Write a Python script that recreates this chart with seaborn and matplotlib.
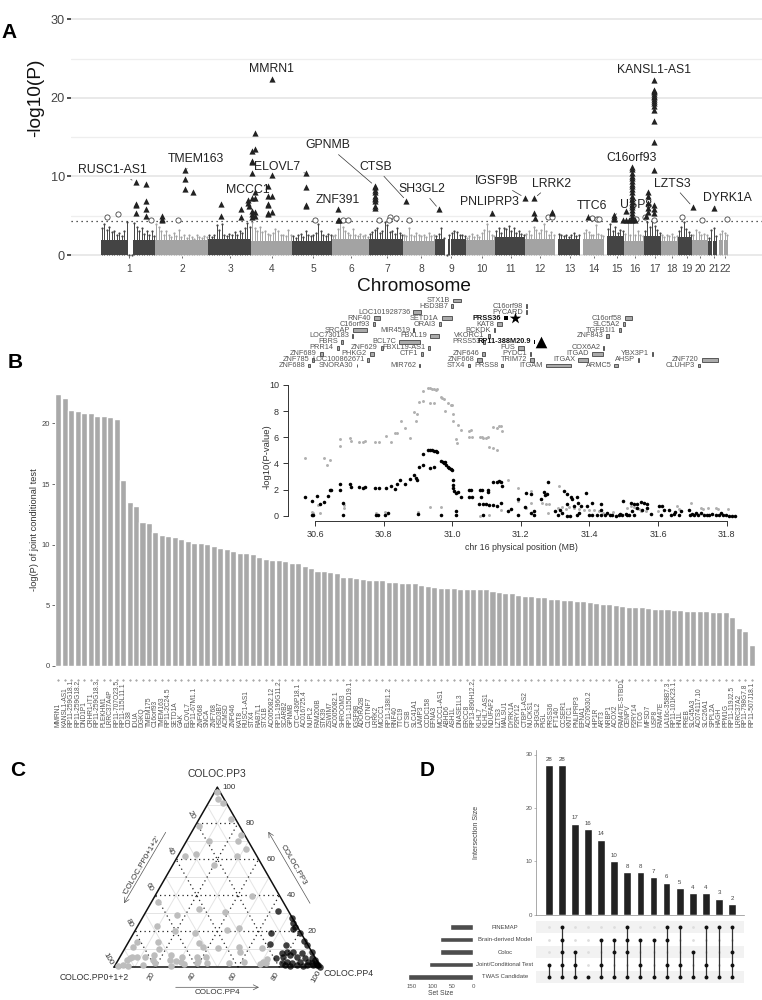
import matplotlib
matplotlib.use('Agg')
import matplotlib.pyplot as plt
import numpy as np
import pandas as pd
import seaborn as sns

# panel A: manhattan background, bin heights per chromosome
chrom_names = [str(i) for i in range(1, 23)]
chrom_ticks = [129, 182, 230, 272, 313, 351, 387, 421, 451, 482, 511, 540, 570, 594, 617, 635, 655, 672, 687, 700, 714, 725]
chrom_start = [101, 155, 208, 251, 292, 332, 369, 403, 435, 466, 495, 525, 558, 583, 607, 624, 644, 661, 678, 692, 708, 719]
chrom_end = [155, 208, 251, 292, 332, 369, 403, 435, 466, 495, 525, 555, 580, 604, 624, 644, 661, 678, 692, 708, 717, 728]
# height of the solid part of each chromosome
chrom_base = [1.9, 1.9, 2.0, 1.8, 1.8, 2.0, 2.1, 1.8, 2.0, 1.9, 2.3, 2.0, 2.0, 2.0, 2.4, 1.8, 2.4, 1.8, 2.3, 1.9, 1.8, 1.9]
chrom_heights = [
    [3.4, 3.9, 3.2, 3.6, 2.9, 3.1, 2.6, 2.8, 2.4, 3.0, 4.2, 0, 0, 4.1, 3.6, 3.0, 3.4, 2.7, 3.1, 2.6, 3.0, 2.4],
    [4.0, 3.6, 3.1, 2.5, 3.0, 2.6, 2.3, 2.8, 2.4, 3.2, 2.3, 2.5, 2.2, 2.6, 2.3, 2.1, 2.5, 2.3, 2.2, 2.4, 2.3],
    [2.5, 2.3, 2.6, 3.8, 3.2, 4.0, 2.6, 2.4, 2.7, 2.5, 2.9, 2.6, 3.0, 2.8, 3.5, 4.1, 3.6],
    [4.2, 3.4, 3.0, 3.6, 2.9, 3.1, 2.7, 2.6, 2.8, 3.3, 3.0, 2.5, 2.6, 2.4, 3.2, 2.6],
    [2.4, 2.2, 2.5, 2.7, 2.3, 3.0, 2.6, 2.4, 2.5, 2.8, 4.0, 3.0, 2.5, 2.4, 2.7, 2.5],
    [2.4, 2.6, 3.3, 4.2, 3.6, 3.0, 2.8, 2.5, 3.3, 2.6, 2.4, 2.7, 2.4, 2.6, 2.3],
    [2.7, 2.9, 3.2, 3.4, 2.8, 3.0, 4.2, 3.8, 2.9, 3.0, 2.7, 3.5, 2.8, 2.6],
    [2.6, 2.4, 3.4, 2.6, 2.4, 2.8, 2.5, 2.4, 2.6, 2.3, 2.8, 2.4, 2.6],
    [2.4, 2.7, 3.5, 2.2, 0, 2.5, 2.8, 3.1, 2.9, 2.6, 2.5, 2.4],
    [2.2, 2.4, 2.7, 2.3, 2.5, 2.3, 2.8, 3.2, 3.9, 3.1, 2.6, 2.4],
    [3.0, 3.4, 2.8, 3.5, 3.3, 3.7, 3.0, 3.4, 2.8, 3.1, 2.7, 2.5],
    [2.7, 3.0, 2.6, 3.6, 3.2, 2.8, 3.2, 3.9, 3.0, 2.6, 2.9, 2.5],
    [2.7, 2.5, 2.4, 2.6, 2.3, 2.5, 2.8, 2.4, 2.6],
    [2.8, 3.2, 2.9, 2.6, 2.5, 3.8, 2.7, 2.5, 2.4],
    [3.3, 4.0, 3.0, 3.6, 2.8, 3.2, 3.0],
    [2.7, 4.3, 2.6, 4.3, 2.5, 3.1, 2.6, 2.4],
    [3.0, 4.2, 3.6, 4.3, 3.7, 3.2, 2.8],
    [2.5, 2.3, 2.6, 2.4, 2.7, 2.3, 2.4],
    [3.0, 3.6, 4.2, 3.3, 2.9, 2.6],
    [2.6, 3.2, 2.9, 2.5, 2.7, 2.5],
    [2.2, 3.2, 3.4, 2.4],
    [2.7, 3.0, 2.8, 2.5],
]

# significant genes (triangles)
tri_pts = [
    (135.8, 9.3), (146.5, 9.1), (135.8, 6.5), (135.8, 6.4), (146.5, 6.9), (146.5, 5.8), (135.8, 5.3), (146.5, 5.0),
    (161.6, 5.0), (161.6, 4.6), (161.6, 4.4), (185.5, 10.8), (185.5, 9.7), (185.5, 8.4), (192.8, 8.0),
    (221.5, 6.5), (221.5, 5.0), (241.5, 4.9), (241.5, 5.9), (248.3, 6.6), (248.3, 7.0), (249.3, 6.3),
    (255.1, 15.5), (255.1, 13.5), (252.2, 13.2), (252.2, 12.0), (252.2, 11.9), (252.2, 10.5), (255.1, 8.0), (252.2, 7.3),
    (255.1, 7.2), (252.2, 5.6), (252.2, 5.2), (252.2, 4.9), (255.1, 5.5), (255.1, 5.0),
    (271.7, 22.4), (271.7, 10.2), (268.3, 8.8), (268.3, 7.5), (271.7, 7.5), (268.3, 6.5), (268.3, 6.4), (271.7, 5.5),
    (268.3, 5.2), (268.3, 5.3), (306.2, 10.4), (306.2, 8.6), (306.2, 6.4), (306.2, 6.2),
    (338.4, 5.9), (338.4, 4.4), (339.4, 4.4),
    (374.9, 8.8), (374.9, 8.6), (374.9, 8.3), (374.9, 8.0), (374.9, 7.5), (374.9, 7.3), (374.9, 7.1), (374.9, 6.9), (374.9, 6.3), (374.9, 6.0),
    (406.5, 6.9), (439.1, 5.8), (492.2, 5.4), (524.8, 7.3), (534.1, 7.2), (534.1, 5.3), (535.5, 4.7),
    (552.1, 5.5), (552.1, 5.3), (588.1, 4.9), (614.4, 5.1), (614.4, 4.8), (614.4, 4.6), (625.6, 5.6), (625.6, 4.5), (623.5, 4.4),
    (632.0, 11.2), (632.0, 10.9), (632.0, 10.5), (632.0, 10.1), (632.0, 9.8), (632.0, 9.4), (632.0, 9.1), (632.0, 8.8),
    (632.0, 8.4), (632.0, 8.0), (632.0, 7.5), (632.0, 7.1), (632.0, 6.8), (632.0, 6.4), (632.0, 6.1), (632.0, 5.7),
    (632.0, 5.3), (632.0, 5.0), (632.0, 4.7), (632.0, 4.4), (629.0, 4.4), (635.0, 4.5),
    (648.5, 8.0), (648.5, 7.5), (648.5, 6.6), (648.5, 6.0), (648.5, 5.5), (646.5, 5.0),
    (654.3, 6.4), (654.3, 5.8), (654.3, 5.3), (654.3, 10.8), (654.3, 14.4), (654.3, 17.0), (654.3, 18.5),
    (654.3, 19.0), (654.3, 19.3), (654.3, 19.6), (654.3, 19.9), (654.3, 20.1), (654.3, 20.3), (654.3, 20.5),
    (654.3, 20.7), (654.3, 20.9), (654.3, 21.0), (654.3, 22.3), (692.8, 6.1), (714.2, 6.0),
]
# genes just below the threshold (open circles)
open_x = [106.6, 118.3, 151.4, 177.7, 315.5, 342.7, 348.1, 378.8, 390.5, 395.8, 389.5, 409, 547.7, 552.1, 592, 596.9, 599.3, 636.3, 645.1, 653.8, 681.6, 702.5, 727.4]
open_y = [4.9, 5.2, 4.4, 4.4, 4.5, 4.4, 4.4, 4.4, 4.8, 4.7, 4.4, 4.5, 4.8, 4.8, 4.7, 4.6, 4.6, 4.6, 4.9, 4.4, 4.9, 4.5, 4.6]

# label, text x, text y, target x, target y
gene_labels = [
    ('RUSC1-AS1', 112, 10.8, 135.8, 9.3), ('TMEM163', 195.7, 12.2, 185.5, 10.8), ('MMRN1', 271.7, 23.7, None, None),
    ('KANSL1-AS1', 654, 23.5, None, None), ('ELOVL7', 277.5, 11.2, 306.2, 10.4), ('MCCC1', 248, 8.3, None, None),
    ('GPNMB', 327.7, 13.96, 374.9, 8.8), ('CTSB', 375.4, 11.2, 406.5, 6.9), ('ZNF391', 338, 7.0, None, None),
    ('SH3GL2', 422, 8.4, 439.1, 5.8), ('IGSF9B', 496.6, 9.4, 524.8, 7.3), ('LRRK2', 551.6, 9.1, 534.1, 7.2),
    ('PNLIPRP3', 489, 6.7, 492.2, 5.4), ('C16orf93', 632, 12.4, None, None), ('TTC6', 591.5, 6.3, 588.1, 4.9),
    ('USP8', 636, 6.4, 614.4, 5.1), ('LZTS3', 672, 9.1, 692.8, 6.1), ('DYRK1A', 727, 7.3, 714.2, 6.0),
]

# locus track above the inset: name, box start, box end, row
track_genes = [
    ('STX1B', 608, 632, 0), ('HSD3B7', 604, 610, 1), ('C16orf98', 827, 831, 1), ('LOC101928736', 490, 512, 2),
    ('PYCARD', 829, 832, 2), ('RNF40', 373, 389, 3), ('SETD1A', 575, 605, 3), ('C16orf58', 1124, 1145, 3),
    ('C16orf93', 370, 375, 4), ('ORAI3', 567, 573, 4), ('KAT8', 741, 755, 4), ('SLC5A2', 1119, 1126, 4),
    ('SRCAP', 310, 352, 5), ('MIR4519', 490, 492, 5), ('BCKDK', 731, 736, 5), ('TGFB1I1', 1107, 1113, 5),
    ('LOC730183', 307, 310, 6), ('FBXL19', 540, 567, 6), ('VKORC1', 713, 719, 6), ('ZNF843', 1069, 1077, 6),
    ('FBRS', 274, 280, 7), ('BCL7C', 448, 511, 7), ('PRSS53', 700, 706, 7),
    ('PRR14', 260, 266, 8), ('ZNF629', 392, 400, 8), ('FBXL19-AS1', 535, 541, 8), ('FUS', 805, 821, 8), ('COX6A2', 1060, 1063, 8),
    ('ZNF689', 210, 218, 9), ('PHKG2', 360, 373, 9), ('CTF1', 512, 520, 9), ('ZNF646', 697, 706, 9), ('PYDC1', 841, 844, 9),
    ('ITGAD', 1025, 1060, 9), ('YBX3P1', 1205, 1208, 9),
    ('ZNF785', 187, 193, 10), ('LOC100862671', 352, 358, 10), ('ZNF668', 682, 696, 10), ('TRIM72', 841, 852, 10),
    ('ITGAX', 985, 1015, 10), ('AHSP', 1163, 1166, 10), ('ZNF720', 1355, 1405, 10),
    ('ZNF688', 175, 180, 11), ('SNORA30', 320, 322, 11), ('MIR762', 508, 511, 11), ('STX4', 653, 661, 11), ('PRSS8', 754, 760, 11),
    ('ITGAM', 887, 964, 11), ('ARMC5', 1093, 1103, 11), ('CLUHP3', 1343, 1350, 11),
]
track_bold = [('PRSS36', 762, 775, 3), ('RP11-388M20.9', 851, 855, 7)]

# panel B
joint_genes = [
    'MMRN1', 'KANSL1-AS1', 'RP11-259G18.1', 'RP11-259G18.2', 'DND1P1', 'CRHR1-IT1', 'RP11-259G18.3', 'PLEKHM1', 'LRRC37A4P', 'RP11-707O23.5',
    'RP11-115L11.1', 'CD38', 'IDUA', 'DGKQ', 'TMEM175', 'C16orf93', 'TMEM163', 'RP11-2C24.5', 'SETD1A', 'GAK',
    'ELOVL7', 'RP11-67M1.1', 'ZNF668', 'SNCA', 'ZNF768', 'HSD3B7', 'ACMSD', 'ZNF646', 'KAT8', 'RUSC1-AS1',
    'STX4', 'RAB7L1', 'STX1B', 'AC005082.12', 'RP11-196G11.2', 'SCARB2', 'GPNMB', 'CTC-436P18.1', 'AC016725.4', 'NUPL2',
    'FAM200B', 'STK39', 'ZSWIM7', 'AC005082.1', 'SHROOM3', 'RP11-115D19.1', 'IGSF9B', 'ADORA2B', 'C1QTNF7', 'LRRK2',
    'MCCC1', 'RP11-138I1.2', 'RNF40', 'TTC19', 'CTSB', 'SLC41A1', 'LAMP3', 'CCDC158', 'EFNA3', 'MCCC1-AS1',
    'ABHD6', 'ASH1L', 'DNASE1L3', 'ERCC8', 'RP13-890H12.2', 'KLHL7', 'KLHL7-AS1', 'NDUFAF2', 'LZTS3', 'MALSU1',
    'DYRK1A', 'P2RY12', 'CTBP1-AS2', 'NUCKS1', 'SH3GL2', 'PIGL', 'PRSS36', 'IFT140', 'CCSER1', 'KNTC1',
    'PNLIPRP3', 'EFNA1', 'AC079630.2', 'HIP1R', 'ART3', 'NRBP1', 'ACOX2', 'FAM47E-STBD1', 'CENPV', 'P2RY14',
    'TTC6', 'MFSD7', 'USP8', 'FAM47E', 'LA16c-358B7.3', 'RP11-101K23.1', 'HN1L', 'PREB', 'SLC45A3', 'AC074117.10',
    'SLC26A1', 'SPPL2A', 'HAGH', 'PPM1G', 'RP11-119J2.5', 'LRRC37A2', 'RP11-798G7.8', 'RP11-507J18.1',
]
joint_logp = [
    22.4, 22.1, 21.07, 21.0, 20.9, 20.85, 20.6, 20.6, 20.5, 20.4,
    15.35, 13.5, 13.2, 11.85, 11.83, 11.05, 10.8, 10.75, 10.65, 10.45,
    10.3, 10.15, 10.15, 10.07, 9.9, 9.77, 9.65, 9.5, 9.3, 9.3,
    9.25, 9.0, 8.8, 8.7, 8.7, 8.68, 8.5, 8.5, 8.25, 8.1,
    7.85, 7.85, 7.75, 7.67, 7.3, 7.3, 7.25, 7.2, 7.13, 7.13,
    7.13, 6.93, 6.9, 6.87, 6.85, 6.82, 6.68, 6.57, 6.48, 6.46,
    6.43, 6.4, 6.38, 6.35, 6.33, 6.32, 6.32, 6.18, 6.1, 6.05,
    6.0, 5.82, 5.77, 5.74, 5.71, 5.68, 5.54, 5.49, 5.46, 5.43,
    5.4, 5.32, 5.29, 5.18, 5.15, 5.13, 5.0, 4.96, 4.9, 4.88,
    4.88, 4.76, 4.74, 4.68, 4.66, 4.63, 4.6, 4.57, 4.55, 4.54,
    4.5, 4.47, 4.45, 4.43, 4.05, 3.13, 2.91, 1.75,
]

# inset: chr16 locus
black_pts = [
    (30.572, 1.42), (30.592, 1.1), (30.607, 1.5), (30.616, .9), (30.627, 1.05), (30.637, 1.55), (30.644, 1.95), (30.646, 2.0),
    (30.673, 2.4), (30.673, 1.95), (30.683, 1.0), (30.683, .1), (30.702, 2.45), (30.704, 2.2), (30.727, 2.2), (30.74, 2.15),
    (30.747, 2.2), (30.774, 2.15), (30.787, 2.15), (30.808, 2.15), (30.822, 2.3), (30.832, 2.05), (30.84, 2.45), (30.848, 2.7),
    (30.862, 2.4), (30.877, 2.85), (30.89, 3.1), (30.895, 2.9), (30.897, 2.75), (30.903, 3.75), (30.914, 3.85), (30.914, 4.75),
    (30.93, 5.0), (30.935, 5.02), (30.94, 5.0), (30.947, 4.95), (30.952, 4.95), (30.957, 4.9), (30.935, 3.65), (30.946, 3.7),
    (30.968, 4.2), (30.972, 4.1), (30.975, 4.0), (30.98, 4.15), (30.982, 3.9), (30.987, 3.75), (30.99, 3.65), (30.997, 3.55),
    (31.0, 3.5), (31.002, 2.75), (31.001, 2.35), (31.003, 2.1), (31.004, 1.9), (31.01, 1.75), (31.016, 1.8), (31.026, 1.45),
    (31.048, 2.0), (31.055, 2.0), (31.05, 1.45), (31.058, 1.45), (31.08, 1.95), (31.087, 2.0), (31.085, 1.45), (31.103, 1.95),
    (31.105, 1.85), (31.077, .9), (31.09, .9), (31.098, .9), (31.106, .8), (31.12, .85), (31.132, .75), (31.143, 1.0),
    (31.12, 2.6), (31.132, 2.6), (31.143, 2.6), (31.137, 2.65), (31.146, 2.3), (31.164, .4), (31.17, .55), (31.193, 1.25),
    (31.215, 1.75), (31.229, 1.7), (31.212, .65), (31.238, .4), (31.26, 1.25), (31.267, 1.8), (31.28, 2.55), (31.272, 1.6), (31.277, 1.7),
    (30.592, .05), (30.595, .1), (30.778, .1), (30.783, .05), (30.803, .05), (30.812, .25), (30.9, .15), (30.968, .05),
    (31.011, .4), (31.011, .05), (31.09, .05), (31.193, .05), (31.229, .25), (31.238, .1),
    (31.326, 1.93), (31.336, 1.66), (31.346, 1.4), (31.35, 1.27), (31.365, 1.4), (31.368, 1.0), (31.336, .87), (31.355, .74),
    (31.375, .74), (31.391, 1.72), (31.394, .74), (31.409, 1.0), (31.435, .87), (31.433, .48),
    (31.3, .34), (31.307, .08), (31.314, .48), (31.321, .21), (31.336, 0), (31.343, 0), (31.365, .08), (31.37, .21),
    (31.399, .08), (31.409, .03), (31.423, .03), (31.433, .08), (31.446, .03), (31.452, .21), (31.467, .08), (31.477, 0),
    (31.486, .08), (31.496, .03), (31.506, .13), (31.516, .08), (31.523, .34), (31.54, .61), (31.554, .48), (31.569, .61),
    (31.52, 1.0), (31.53, .87), (31.54, .92), (31.55, 1.08), (31.559, 1.0), (31.569, .87), (31.498, 1.13), (31.579, .16),
    (31.603, .74), (31.613, .74), (31.617, .48), (31.608, .08), (31.632, .48), (31.637, .08), (31.647, .13), (31.661, .08),
    (31.666, .34), (31.69, .48), (31.692, .08), (31.705, .03), (31.717, .08), (31.724, .21), (31.734, .08), (31.744, .08),
    (31.758, .13), (31.768, .08), (31.778, .08), (31.783, .21), (31.797, .03), (31.807, 0), (31.817, 0), (31.824, 0),
    (31.53, .1), (31.46, .05), (31.49, .13), (31.51, .05), (31.7, .16), (31.71, .2), (31.75, .05), (31.79, .1), (31.65, .3),
]
gray_pts = [
    (30.571, 4.42), (30.626, 4.45), (30.636, 3.9), (30.644, 4.3), (30.673, 5.9), (30.673, 5.3), (30.702, 5.95), (30.704, 5.7),
    (30.727, 5.65), (30.74, 5.65), (30.747, 5.7), (30.774, 5.65), (30.787, 5.65), (30.808, 6.1), (30.822, 5.65), (30.832, 6.35),
    (30.84, 6.35), (30.85, 7.25), (30.862, 6.7), (30.877, 5.95), (30.89, 7.95), (30.895, 7.25), (30.898, 7.8), (30.903, 8.7),
    (30.914, 8.8), (30.914, 9.55), (30.93, 9.75), (30.935, 9.75), (30.94, 9.7), (30.947, 9.7), (30.952, 9.65), (30.957, 9.7),
    (30.935, 8.6), (30.946, 8.65), (30.968, 9.1), (30.97, 9.0), (30.977, 8.9), (30.98, 8.0), (30.987, 8.65), (30.997, 8.5),
    (31.0, 8.45), (31.001, 7.75), (31.003, 7.25), (31.016, 6.95), (31.026, 6.55), (31.01, 5.85), (31.013, 5.55), (31.048, 6.5),
    (31.055, 6.55), (31.05, 6.05), (31.058, 6.05), (31.08, 6.05), (31.087, 6.0), (31.09, 5.95), (31.103, 6.05), (31.106, 5.25),
    (31.098, 5.95), (31.12, 6.8), (31.132, 6.7), (31.137, 6.85), (31.143, 6.9), (31.146, 6.45), (31.132, 5.05), (31.12, 5.2),
    (30.592, .3), (30.595, .2), (30.608, .85), (30.616, .25), (30.684, .8), (30.684, .6), (30.778, .2), (30.803, .3), (30.9, .3),
    (30.936, .7), (30.968, .65), (31.011, .1), (31.08, .0), (31.09, .05), (31.106, .05), (31.143, .45), (31.164, 2.73),
    (31.193, 2.1), (31.193, 1.1), (31.215, .6), (31.229, 1.93), (31.229, .95), (31.238, .05), (31.263, 1.0), (31.273, .92), (31.283, .87),
    (31.28, .2), (31.312, 2.25), (31.307, .61), (31.321, .66), (31.331, .55), (31.341, .66), (31.355, .61), (31.37, .55),
    (31.384, .48), (31.399, .48), (31.414, .48), (31.428, .4), (31.52, .74), (31.535, .61), (31.55, .34), (31.564, .34),
    (31.656, .74), (31.695, 1.0), (31.724, .61), (31.768, .61), (31.804, .53), (31.51, .6), (31.53, .65), (31.545, .55),
    (31.73, .55), (31.745, .58), (31.775, .55), (31.44, .25), (31.47, .3), (31.6, .35), (31.66, .5),
]
inset_ticks = [30.6, 30.8, 31.0, 31.2, 31.4, 31.6, 31.8]

# panel C: posterior percentages
coloc_gray_pp3 = [97.2, 93.7, 91.1, 82.6, 78.5, 70.2, 73.3, 70.2, 65.9, 62, 62.8, 61.7, 57, 39.8, 36.3, 32.6, 30.9, 28.9, 23.1, 20.4, 19.1,
                  20.7, 21.7, 14.1, 11.5, 14.1, 10.2, 13.5, 11.1, 10.9, 11.5, 8.7, 10.9, 5.9, 5.6, 4.1, 5, 5.7, 7, 4.1, 2.2, 6.7, 5.9, 4.1,
                  3.3, 3.1, 5.6, 3.5, 5.9, 2.6, 2.2, 2.2, 2.8, 4.4, 3, 2.2, 1.7, .7, 1.3, .7, 1.1, .7, 1.9]
coloc_gray_pp4 = [1.4, 3.6, 7, 15.5, 1.7, 10.9, 24.7, 25.1, 30.8, 28.4, 8.4, 3.5, 19.7, 47, 3.2, 24.8, 38.1, 15.9, 9.3, 19.5, 29.5,
                  44.2, 49.7, 4, 3.3, 14.2, 16.7, 34.5, 37.4, 44.9, 54.6, 56.5, 66.2, 5.6, 8.2, 4.4, 5.2, 12.2, 16, 16.7, 18.7, 24.2, 29.8, 25.1,
                  28.3, 30.7, 37.2, 39, 41.4, 43.9, 38.9, 54.7, 61.7, 71.7, 70.8, 72.3, 69.8, 1.7, 3.9, 6.6, 13.7, 27.2, 33]
coloc_dark_pp3 = [31.5, 27.2, 24.4, 22.6, 21.5, 19.3, 13, 12.4, 18.9, 14.8, 12.4, 8.7, 8.1, 8.3, 8.3, 7.8, 5, 5.9, 6.9, 5.6, 5, 5,
                  2.2, 3.1, 2.2, 3.1, 3.1, 4.1, 1.3, 1.3, 1.3, 1.3, 1.3, .4, .7, .7, 2.2, 2.2, 1.3]
coloc_dark_pp4 = [63.6, 72.4, 74.6, 76.3, 75.7, 66.1, 69.1, 77, 80.5, 84.5, 87, 91.3, 77, 79.4, 82.6, 86.9, 75.7, 79, 81.7, 85.6, 89.9, 93.1,
                  80, 82, 84.9, 88.5, 92.5, 95.2, 82, 87.7, 92.5, 95.8, 97.4, 99.5, 91.2, 84.9, 94.5, 96.6, 98.2]
tern_major = [20, 40, 60, 80]
tern_minor = [10, 30, 50, 70, 90]
tern_labels = [20, 40, 60, 80, 100]

# panel D
intersection_sizes = [28, 28, 17, 16, 14, 10, 8, 8, 7, 6, 5, 4, 4, 3, 2]
set_names = ['FINEMAP', 'Brain-derived Model', 'Coloc', 'Joint/Conditional Test', 'TWAS Candidate']
set_sizes = [56, 80, 80, 107, 160]
memberships = [[3, 4], [0, 1, 2, 3, 4], [2, 3, 4], [4], [1, 3, 4], [1, 2, 4], [0, 1, 2, 4], [1, 3, 4], [1, 4], [0, 1, 3, 4], [0, 3, 4], [2, 4], [0, 3, 4], [0, 4], [0, 2, 3, 4]]

W, H = 762, 1000
sns.set_theme(style='white')
plt.rcParams['font.family'] = ['Liberation Sans', 'DejaVu Sans']

fig = plt.figure(figsize=(W / 100, H / 100), dpi=100)


def px_axes(l, t, r, b, **kw):
    a = fig.add_axes([l / W, 1 - b / H, (r - l) / W, (b - t) / H], **kw)
    a.patch.set_alpha(0)
    return a


def px_text(x, y, s, **kw):
    kw.setdefault('ha', 'center')
    kw.setdefault('va', 'center')
    return fig.text(x / W, 1 - y / H, s, **kw)


for letter, x, y in [('A', 9, 32), ('B', 15, 362), ('C', 18, 771), ('D', 427, 771)]:
    px_text(x, y, letter, fontsize=15, fontweight='bold', color='black')

# ---------- A: manhattan
ax = px_axes(71, 15, 762, 256)
ax.set_xlim(71, 762)
ax.set_ylim(-0.127, 30.55)
ax.set_yticks([0, 10, 20, 30])
ax.set_yticks([5, 15, 25], minor=True)
ax.grid(True, which='major', axis='y', color='#e9e9e9', lw=1.4)
ax.grid(True, which='minor', axis='y', color='#eeeeee', lw=0.9)
ax.set_axisbelow(True)
for i, heights in enumerate(chrom_heights):
    centers = np.linspace(chrom_start[i] + 1, chrom_end[i] - 1, len(heights))
    col = '#444444' if i % 2 == 0 else '#a3a3a3'
    bw = (chrom_end[i] - chrom_start[i]) / len(heights) * 1.02
    ax.bar(centers, np.minimum(heights, chrom_base[i]), width=bw, color=col, linewidth=0)
    ax.vlines(centers, 0, heights, color=col, lw=0.7)
    sns.scatterplot(x=centers, y=heights, color=col, s=2.5, linewidth=0, ax=ax)
ax.axhline(4.33, color='#222222', ls=(0, (1, 3)), lw=0.9)
tri_df = pd.DataFrame(tri_pts, columns=['pos', 'logp'])
sns.scatterplot(data=tri_df, x='pos', y='logp', marker='^', s=20, color='#222222', linewidth=0, ax=ax, zorder=4)
ax.scatter(open_x, open_y, s=14, facecolor='white', edgecolor='#444444', linewidth=0.6, zorder=3)
for name, tx, ty, px, py in gene_labels:
    if px is None:
        ax.text(tx, ty, name, ha='center', va='center', fontsize=8.8, color='#222222', zorder=5)
    else:
        ax.annotate(name, xy=(px, py), xytext=(tx, ty), ha='center', va='center', fontsize=8.8, color='#222222', zorder=5,
                    arrowprops=dict(arrowstyle='-', color='#333333', lw=0.5, shrinkA=0, shrinkB=3))
ax.set_xticks(chrom_ticks)
ax.set_xticklabels(chrom_names, fontsize=7.4, color='#444444')
ax.tick_params(axis='x', length=1.5, width=0.6, color='#555555', pad=4, bottom=True)
ax.tick_params(axis='y', which='major', length=3, width=1.2, color='#333333', pad=1.5, left=True, labelsize=9.2, labelcolor='#444444')
ax.tick_params(axis='y', which='minor', length=0, left=False)
sns.despine(ax=ax, left=True, bottom=True)
ax.set_xlabel('')
ax.set_ylabel('')
px_text(414, 287, 'Chromosome', fontsize=13.7, color='#111111')
px_text(36, 97.5, '-log10(P)', fontsize=13.8, rotation=90, color='#111111')

# ---------- locus gene track
ax = px_axes(250, 290, 750, 370)
ax.set_xlim(0, 1500)
ax.set_ylim(240, 0)
ax.axis('off')
for name, start, end, row in track_genes:
    y = 31 + 17.8 * row
    ax.barh(y, end - start, left=start, height=11, color='#aaaaaa', edgecolor='#444444', linewidth=0.6)
    ax.text(start - 9, y, name, ha='right', va='center', fontsize=5.3, color='#555555')
for name, start, end, row in track_bold:
    y = 31 + 17.8 * row
    ax.barh(y, end - start, left=start, height=13, color='black', linewidth=0)
    ax.text(start - 9, y, name, ha='right', va='center', fontsize=5.3, color='#111111', fontweight='bold')
ax.scatter([795], [85], marker='*', s=75, color='black', linewidth=0)
ax.scatter([872], [155], marker='^', s=70, color='black', linewidth=0)

# ---------- B: bars
ax = px_axes(55, 380, 755, 666)
joint_df = pd.DataFrame({'gene': joint_genes, 'logp': joint_logp})
sns.barplot(data=joint_df, x='gene', y='logp', color='#a9a9a9', saturation=1, width=0.93, ax=ax)
ax.set_xlim(-0.5, 107.5)
ax.set_ylim(0, 23.58)
ax.set_yticks([0, 5, 10, 15, 20])
ax.tick_params(axis='y', left=True, length=2, width=0.6, color='#555555', labelsize=5.5, labelcolor='#444444', pad=1.5)
ax.set_xlabel('')
ax.set_ylabel('')
sns.despine(ax=ax, left=True, bottom=True)
ax.set_xticks(range(len(joint_genes)))
ax.set_xticklabels(joint_genes, rotation=90, va='bottom', ha='center', fontsize=4.8, color='#555555')
ax.tick_params(axis='x', bottom=False, length=0, pad=44)
ax.plot(range(len(joint_genes)), [-1.15] * len(joint_genes), ls='none', marker='.', ms=0.8, color='#777777', clip_on=False)
px_text(34.5, 530, '-log(P) of joint conditional test', fontsize=6.7, rotation=90, color='#333333')

# ---------- inset
ax = px_axes(288, 385, 740, 521)
sc = 343.0
ax.set_xlim(30.6 - 27 / sc, 30.6 + 452 / sc - 27 / sc)
ax.set_ylim(-5 / 12.6, 131 / 12.6 - 5 / 12.6)
gray_df = pd.DataFrame(gray_pts, columns=['mb', 'logp'])
black_df = pd.DataFrame(black_pts, columns=['mb', 'logp'])
sns.scatterplot(data=gray_df, x='mb', y='logp', color='#b0b0b0', s=4.5, linewidth=0, ax=ax)
sns.scatterplot(data=black_df, x='mb', y='logp', color='black', s=6.5, linewidth=0, ax=ax)
ax.set_xticks(inset_ticks)
ax.set_xticklabels([f'{v:.1f}' for v in inset_ticks])
ax.set_yticks([0, 2, 4, 6, 8, 10])
ax.tick_params(axis='both', bottom=True, left=True, length=3.5, width=0.7, color='#333333', labelsize=6.5, labelcolor='#333333', pad=3)
ax.spines['top'].set_visible(False)
ax.spines['right'].set_visible(False)
ax.spines['left'].set_bounds(0, 10)
ax.spines['bottom'].set_bounds(30.6, 31.8)
for s in ['left', 'bottom']:
    ax.spines[s].set_linewidth(0.7)
    ax.spines[s].set_color('#333333')
ax.set_xlabel('')
ax.set_ylabel('')
px_text(521, 547, 'chr 16 physical position (MB)', fontsize=6.3, color='#333333')
px_text(267, 457, '-log10(P-value)', fontsize=6.8, rotation=90, color='#333333')

# ---------- C: ternary
ax = px_axes(60, 770, 372, 1000)
ax.set_xlim((60 - 114) / 2.067, (372 - 114) / 2.067)
ax.set_ylim((967.3 - 1000) / 1.8, (967.3 - 770) / 1.8)
ax.axis('off')


def tern(pp3, pp4):
    pp3 = np.asarray(pp3, dtype=float)
    return np.asarray(pp4, dtype=float) + pp3 / 2, pp3


def tern_line(p3a, p4a, p3b, p4b, **kw):
    xa, ya = tern(p3a, p4a)
    xb, yb = tern(p3b, p4b)
    ax.plot([xa, xb], [ya, yb], **kw)


for levels, style in [(tern_minor, dict(color='#e4e4e4', lw=0.7)), (tern_major, dict(color='#222222', lw=0.9, ls=(0, (1, 2.6))))]:
    for v in levels:
        tern_line(v, 0, v, 100 - v, **style)
        tern_line(0, v, 100 - v, v, **style)
        tern_line(0, 100 - v, 100 - v, 0, **style)
tern_line(0, 0, 100, 0, color='#111111', lw=1.1)
tern_line(100, 0, 0, 100, color='#111111', lw=1.1)
tern_line(0, 100, 0, 0, color='#111111', lw=1.1)

gx, gy = tern(coloc_gray_pp3, coloc_gray_pp4)
dx, dy = tern(coloc_dark_pp3, coloc_dark_pp4)
sns.scatterplot(x=gx, y=gy, color='#bdbdbd', s=22, linewidth=0, ax=ax, zorder=3)
sns.scatterplot(x=dx, y=dy, color='black', alpha=0.75, s=22, linewidth=0, ax=ax, zorder=4)
ax.axis('off')
for v in tern_labels:
    x, y = tern(v, 100 - v)
    ax.annotate(str(v), (x, y), xytext=(12, 0), textcoords='offset pixels', fontsize=5.8, color='#333333', ha='center', va='center')
    x, y = tern(100 - v, 0)
    ax.annotate(str(v), (x, y), xytext=(-6, 8), textcoords='offset pixels', fontsize=5.8, color='#333333', ha='center', va='center', rotation=-60)
    x, y = tern(0, v)
    ax.annotate(str(v), (x, y), xytext=(-4, -9), textcoords='offset pixels', fontsize=5.8, color='#333333', ha='center', va='center', rotation=60)
px_text(217, 774, 'COLOC.PP3', fontsize=7.4, color='#333333')
px_text(94, 977, 'COLOC.PP0+1+2', fontsize=6.2, color='#333333')
px_text(324, 974, 'COLOC.PP4', fontsize=6.3, color='#333333', ha='left')
px_text(217, 992, 'COLOC.PP4', fontsize=5.8, color='#333333')
px_text(293.3, 865, 'COLOC.PP3', fontsize=5.8, color='#333333', rotation=-60)
px_text(141.7, 865, "'COLOC.PP0+1+2'", fontsize=5.8, color='#333333', rotation=60)
for (x0, y0, x1, y1) in [(175.7, 987.3, 259, 987.3), (310, 903.3, 268.3, 831.7), (165.7, 832.3, 124, 903.3)]:
    ax.annotate('', xy=((x1 - 114) / 2.067, (967.3 - y1) / 1.8), xytext=((x0 - 114) / 2.067, (967.3 - y0) / 1.8),
                arrowprops=dict(arrowstyle='->', color='#555555', lw=0.5, shrinkA=0, shrinkB=0, mutation_scale=9), annotation_clip=False)

# ---------- D: upset
x_lim = ((535.7 - 548.7) / 13.1, (744.3 - 548.7) / 13.1)
ax = px_axes(535.7, 750, 744.3, 914.7)
sns.barplot(x=list(range(len(intersection_sizes))), y=intersection_sizes, color='#222222', saturation=1, width=0.59, ax=ax)
ax.set_xlim(*x_lim)
ax.set_ylim(0, 164.7 / 5.34)
ax.set_yticks([0, 10, 20, 30])
ax.set_xticks([])
for i, v in enumerate(intersection_sizes):
    ax.text(i, v + 0.65, str(v), ha='center', va='bottom', fontsize=4.4, color='#444444')
ax.tick_params(axis='y', left=True, length=1.5, width=0.4, color='#888888', labelsize=4.4, labelcolor='#555555', pad=1)
sns.despine(ax=ax)
for s in ['left', 'bottom']:
    ax.spines[s].set_linewidth(0.5)
    ax.spines[s].set_color('#888888')
ax.set_xlabel('')
ax.set_ylabel('')
px_text(476.7, 832.7, 'Intersection Size', fontsize=5.2, rotation=90, color='#444444')

ax = px_axes(535.7, 921, 744.3, 983.2)
ax.set_xlim(*x_lim)
ax.set_ylim(4.5, -0.5)
ax.axis('off')
for r in [0, 2, 4]:
    ax.axhspan(r - 0.5, r + 0.5, color='#f2f2f2', lw=0)
empty_x, empty_y, on_x, on_y = [], [], [], []
for c, members in enumerate(memberships):
    ax.plot([c, c], [min(members), max(members)], color='#333333', lw=0.9, zorder=2)
    for r in range(len(set_names)):
        if r in members:
            on_x.append(c)
            on_y.append(r)
        else:
            empty_x.append(c)
            empty_y.append(r)
sns.scatterplot(x=empty_x, y=empty_y, color='#dddddd', s=4, linewidth=0, ax=ax, zorder=1)
sns.scatterplot(x=on_x, y=on_y, color='#111111', s=8, linewidth=0, ax=ax, zorder=3)
ax.axis('off')

ax = px_axes(405, 921, 473, 983.2)
sns.barplot(y=set_names, x=set_sizes, color='#4d4d4d', saturation=1, width=0.45, orient='h', ax=ax)
ax.set_xlim(167, 0)
ax.set_xticks([150, 100, 50, 0])
ax.set_yticks([])
ax.tick_params(axis='x', bottom=False, length=0, labelsize=4.4, labelcolor='#555555', pad=0.5)
sns.despine(ax=ax, left=True, bottom=True)
ax.set_xlabel('')
ax.set_ylabel('')
for i, name in enumerate(set_names):
    px_text(505, 927.3 + 12.42 * i, name, fontsize=4.3, color='#444444')
px_text(441, 993.5, 'Set Size', fontsize=4.9, color='#444444')

fig.savefig('out.png', dpi=100)
